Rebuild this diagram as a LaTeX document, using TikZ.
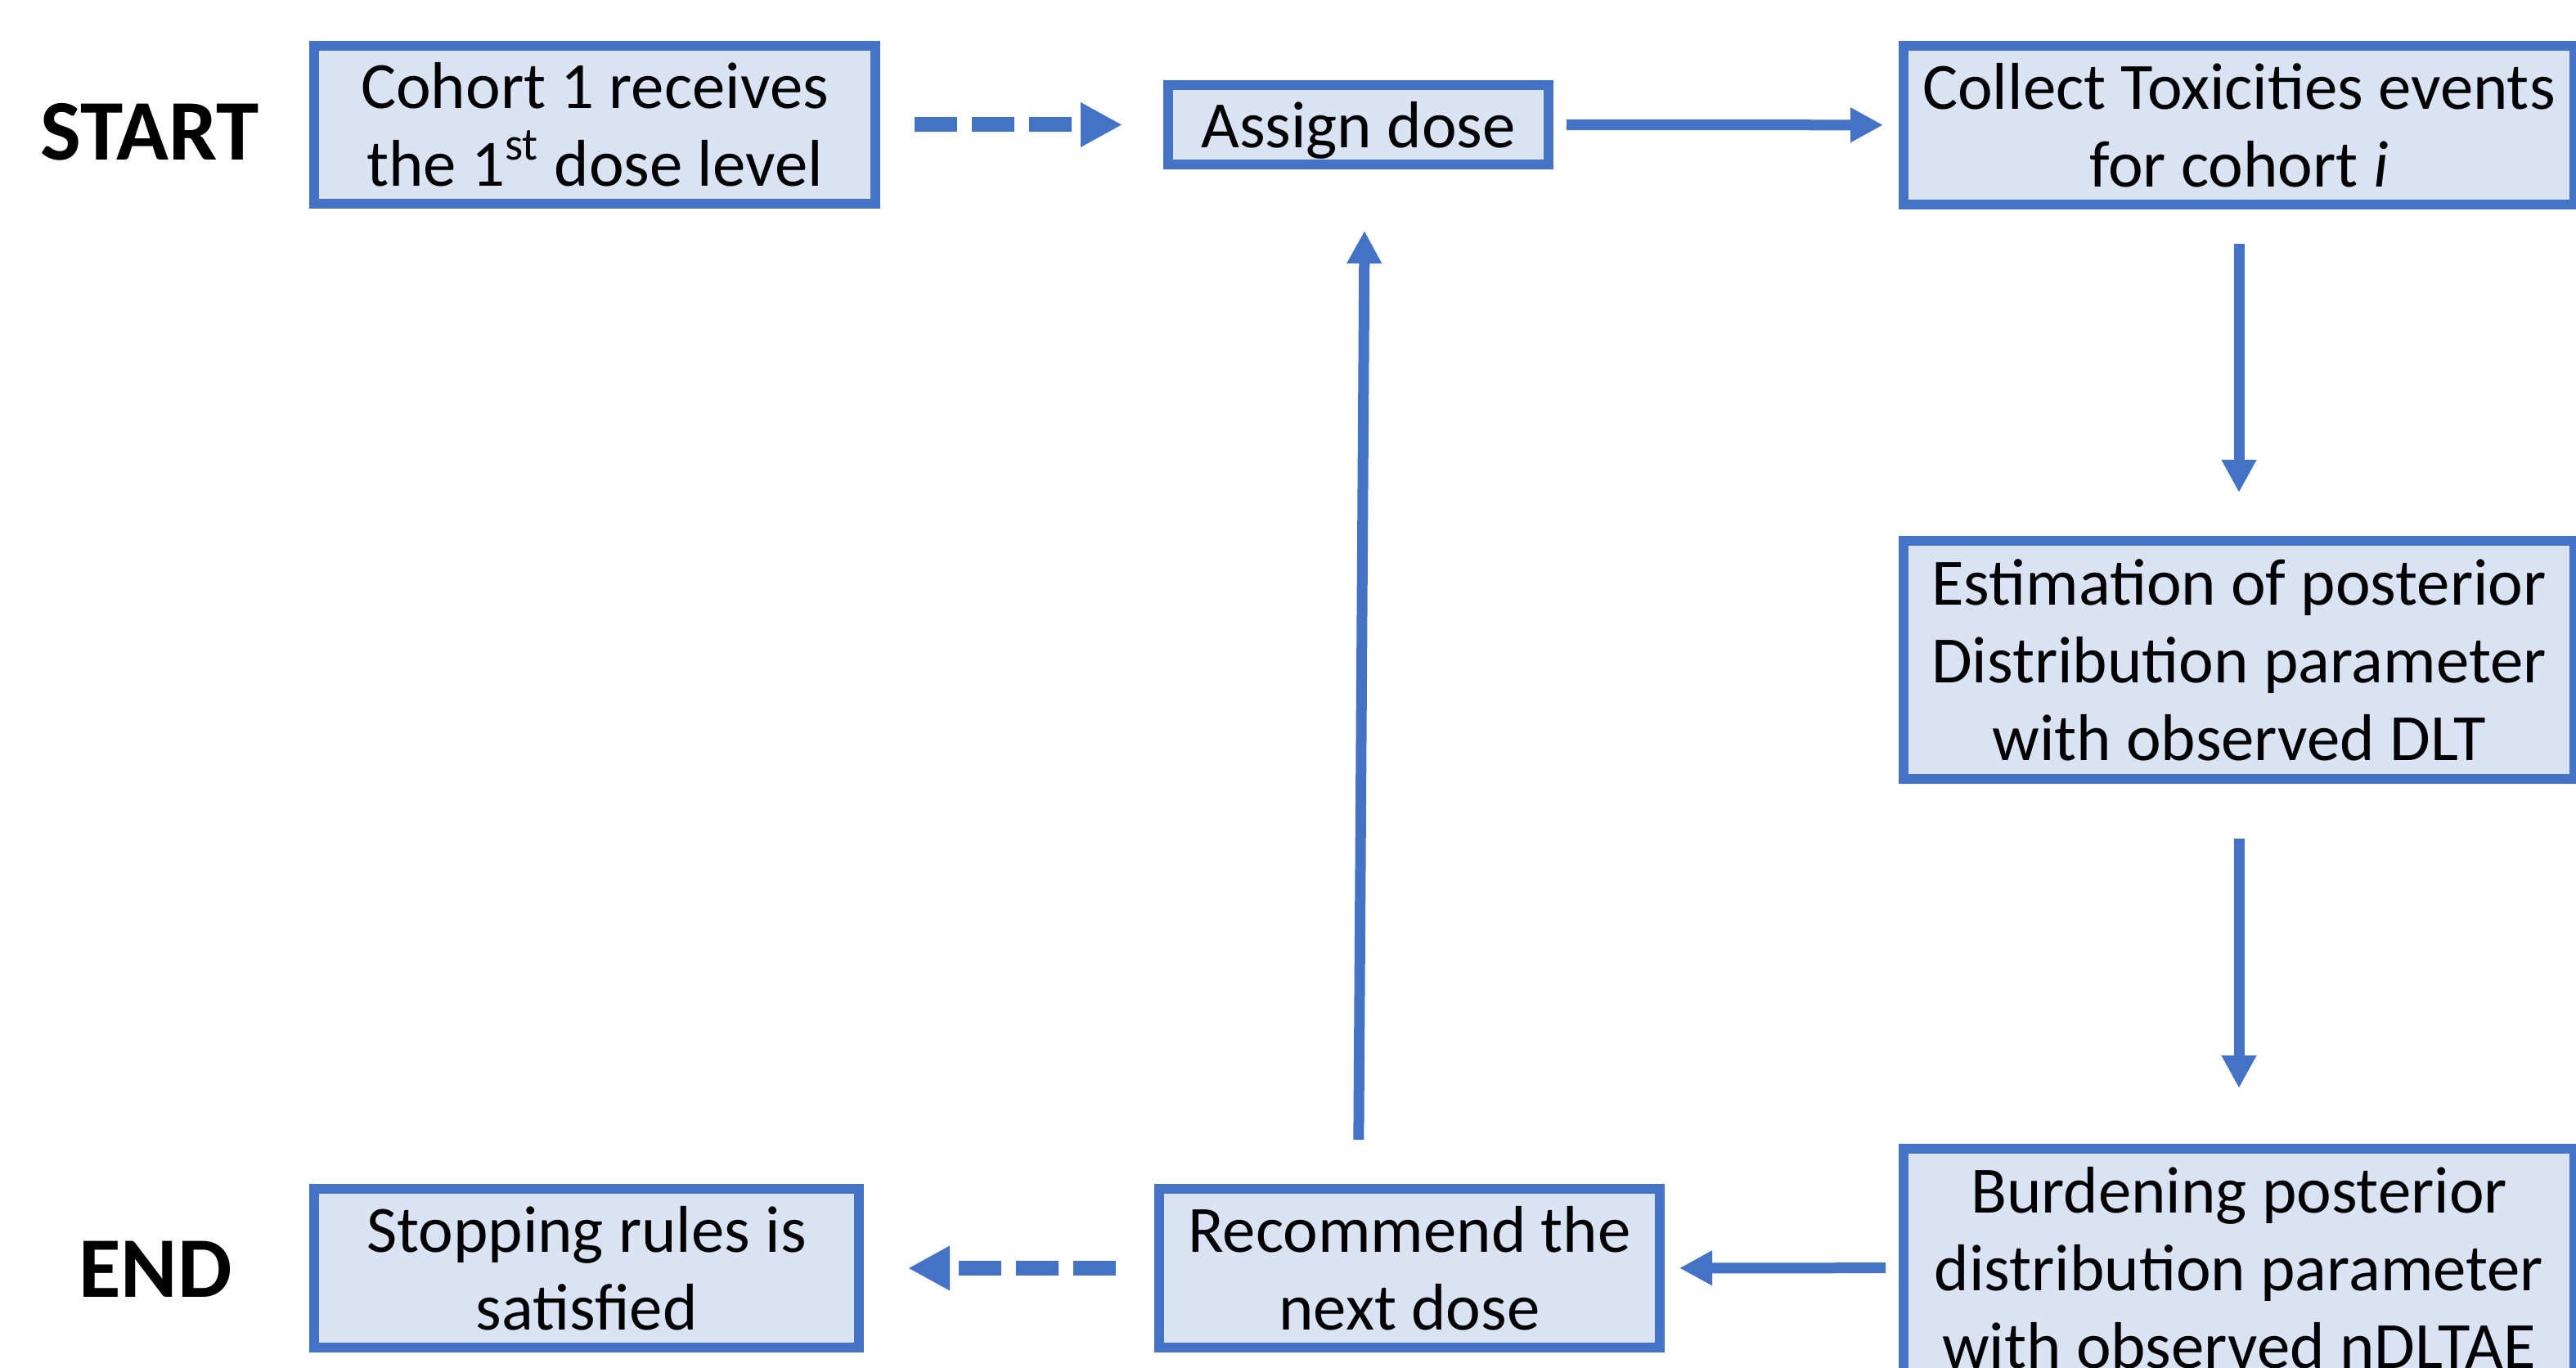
\documentclass[tikz,border=0pt]{standalone}
\usepackage{fontspec}
\setmainfont{Carlito}
\usepackage{xcolor}
\usetikzlibrary{arrows.meta, positioning, calc}
\definecolor{boxblue}{HTML}{4472C4}
\definecolor{boxfill}{HTML}{DAE3F3}

\begin{document}
\begin{tikzpicture}[
    stage/.style={draw=boxblue, fill=boxfill, line width=0.12cm, align=center, inner sep=0pt,
        font=\fontsize{23}{27}\selectfont},
    flow/.style={color=boxblue, line width=0.13cm, -{Triangle[length=0.4cm, width=0.4cm]}},
    dashflow/.style={color=boxblue, line width=0.18cm, dash pattern=on 0.52cm off 0.18cm,
        -{Triangle[length=0.51cm, width=0.51cm]}},
    tag/.style={font=\fontsize{30}{36}\selectfont\bfseries}
]
    % 画布
    \useasboundingbox (0, 0) rectangle (31.49, -16.72);
    \clip (0, 0) rectangle (31.49, -16.72);

    % 起止标签
    \node[tag] (start) at (1.83, -1.61) {START};
    \node[tag] (end) at (1.90, -15.51) {END};

    % 方框
    \node[stage, minimum width=6.86cm, minimum height=1.93cm] (cohort) at (7.27, -1.525)
        {Cohort 1 receives\\the 1\textsuperscript{st} dose level};
    \node[stage, minimum width=4.65cm, minimum height=0.97cm, text depth=0pt] (assign) at (16.605, -1.525)
        {Assign dose};
    \node[stage, minimum width=8.2cm, minimum height=1.94cm] (collect) at (27.37, -1.53)
        {Collect Toxicities events\\for cohort \textit{i}};
    \node[stage, minimum width=8.2cm, minimum height=2.91cm] (estim) at (27.37, -8.065)
        {Estimation of posterior\\Distribution parameter\\with observed DLT};
    \node[stage, minimum width=8.2cm, minimum height=2.91cm] (burden) at (27.37, -15.495)
        {Burdening posterior\\distribution parameter\\with observed nDLTAE};
    \node[stage, minimum width=6.12cm, minimum height=1.94cm] (recommend) at (17.23, -15.50)
        {Recommend the\\next dose};
    \node[stage, minimum width=6.66cm, minimum height=1.94cm] (stopping) at (7.17, -15.50)
        {Stopping rules is\\satisfied};

    % 箭头
    \draw[dashflow, shorten <=0.42cm, shorten >=0.50cm] (cohort) -- (assign);
    \draw[flow, shorten <=0.16cm, shorten >=0.19cm] (assign) -- (collect);
    \draw[flow, shorten <=0.42cm, shorten >=0.53cm] (collect) -- (estim);
    \draw[flow, shorten <=0.67cm, shorten >=0.68cm] (estim) -- (burden);
    \draw[flow, shorten <=0.16cm, shorten >=0.18cm] (burden) -- (recommend);
    \draw[dashflow, shorten <=0.47cm, shorten >=0.54cm] (recommend) -- (stopping);
    \draw[flow, shorten <=0.54cm, shorten >=0.75cm] (recommend.north -| assign.south) -- ([xshift=0.08cm]assign.south);
\end{tikzpicture}
\end{document}
